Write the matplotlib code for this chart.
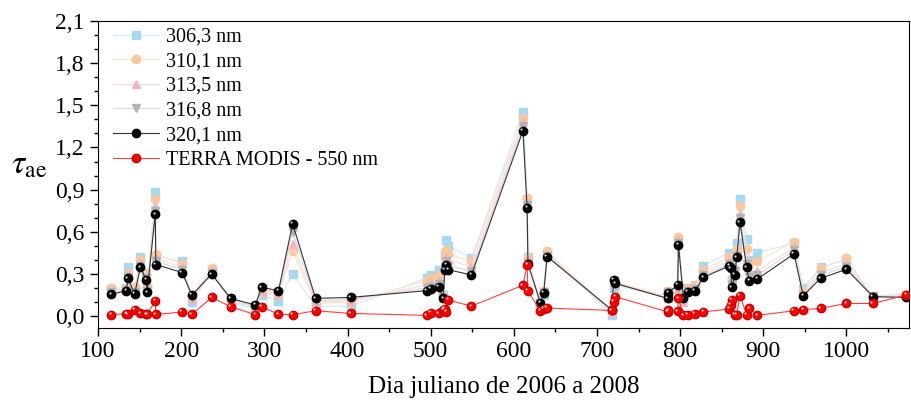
import matplotlib
matplotlib.use('Agg')
import matplotlib.pyplot as plt
from matplotlib.ticker import MultipleLocator, FuncFormatter
from matplotlib.transforms import offset_copy

plt.rcParams['font.family'] = ['Liberation Serif', 'DejaVu Serif']
plt.rcParams['mathtext.fontset'] = 'stix'

# Julian day (2006-2008)
dias = [116, 134, 136, 144, 151, 158, 159, 168.8, 169.5, 201, 213, 236.5, 259.5, 289, 297,
        317, 334, 361.6, 404, 495, 500, 510, 515, 517, 519, 521, 549, 611, 616, 617, 632,
        636, 640, 718, 720, 722, 785, 786, 797, 798, 804, 809, 818, 828, 859, 861, 862,
        866, 868, 872, 880, 883, 893, 937, 948, 969, 1000, 1032, 1072]

# aerosol optical depth per wavelength
tau_3063 = [0.19, 0.20, 0.35, 0.19, 0.424, 0.31, 0.20, 0.88, 0.43, 0.39, 0.10, 0.32, 0.10, 0.05, 0.15,
            0.11, 0.30, 0.07, 0.07, 0.27, 0.29, 0.33, 0.15, 0.44, 0.54, 0.50, 0.41, 1.45, 0.83, 0.42, 0.06,
            0.15, 0.45, 0.01, 0.20, 0.22, 0.13, 0.17, 0.20, 0.55, 0.12, 0.20, 0.22, 0.36, 0.45, 0.43, 0.26,
            0.45, 0.52, 0.83, 0.55, 0.40, 0.45, 0.52, 0.20, 0.35, 0.40, 0.13, 0.15]
tau_3101 = [0.20, 0.20, 0.31, 0.21, 0.40, 0.30, 0.21, 0.83, 0.44, 0.37, 0.13, 0.34, 0.11, 0.06, 0.17,
            0.15, 0.46, 0.09, 0.10, 0.25, 0.27, 0.29, 0.14, 0.42, 0.47, 0.44, 0.39, 1.41, 0.84, 0.41, 0.08,
            0.18, 0.46, 0.03, 0.25, 0.24, 0.14, 0.18, 0.20, 0.56, 0.13, 0.20, 0.22, 0.33, 0.42, 0.39, 0.26,
            0.42, 0.47, 0.78, 0.48, 0.38, 0.39, 0.53, 0.18, 0.34, 0.41, 0.14, 0.16]
tau_3135 = [0.18, 0.19, 0.29, 0.19, 0.38, 0.28, 0.19, 0.78, 0.41, 0.35, 0.12, 0.32, 0.11, 0.06, 0.18,
            0.16, 0.51, 0.10, 0.11, 0.22, 0.24, 0.26, 0.13, 0.38, 0.42, 0.40, 0.35, 1.38, 0.81, 0.40, 0.08,
            0.17, 0.44, 0.03, 0.24, 0.23, 0.13, 0.17, 0.19, 0.54, 0.10, 0.19, 0.20, 0.31, 0.39, 0.37, 0.23,
            0.36, 0.44, 0.73, 0.40, 0.33, 0.32, 0.49, 0.16, 0.31, 0.37, 0.14, 0.15]
tau_3168 = [0.17, 0.185, 0.28, 0.17, 0.36, 0.27, 0.18, 0.75, 0.39, 0.33, 0.13, 0.31, 0.12, 0.07, 0.19,
            0.17, 0.60, 0.11, 0.12, 0.20, 0.21, 0.23, 0.13, 0.35, 0.39, 0.36, 0.32, 1.35, 0.79, 0.38, 0.09,
            0.17, 0.43, 0.04, 0.25, 0.23, 0.13, 0.17, 0.20, 0.52, 0.12, 0.18, 0.19, 0.29, 0.37, 0.35, 0.22,
            0.32, 0.43, 0.70, 0.37, 0.28, 0.29, 0.47, 0.15, 0.29, 0.35, 0.14, 0.14]
tau_3201 = [0.155, 0.18, 0.27, 0.157, 0.348, 0.257, 0.169, 0.724, 0.367, 0.31, 0.15, 0.298, 0.126, 0.079, 0.205,
            0.18, 0.657, 0.126, 0.133, 0.181, 0.193, 0.21, 0.126, 0.329, 0.364, 0.33, 0.293, 1.32, 0.77, 0.37, 0.095,
            0.167, 0.424, 0.043, 0.257, 0.233, 0.126, 0.167, 0.221, 0.507, 0.126, 0.174, 0.18, 0.276, 0.357, 0.34, 0.205,
            0.293, 0.419, 0.667, 0.348, 0.252, 0.264, 0.443, 0.145, 0.269, 0.333, 0.138, 0.133]
tau_modis = [0.01, 0.017, 0.014, 0.043, 0.019, 0.012, 0.012, 0.107, 0.012, 0.029, 0.012, 0.133, 0.067, 0.01, 0.067,
             0.012, 0.01, 0.038, 0.019, 0.005, 0.024, 0.02, 0.043, 0.05, 0.03, 0.114, 0.071, 0.22, 0.364, 0.178, 0.038,
             0.05, 0.057, 0.04, 0.10, 0.138, 0.03, 0.04, 0.035, 0.126, 0.005, 0.01, 0.015, 0.03, 0.05, 0.08, 0.114,
             0.01, 0.01, 0.145, 0.01, 0.055, 0.005, 0.038, 0.046, 0.055, 0.09, 0.09, 0.15]

fig = plt.figure(figsize=(9.12, 4.08), dpi=100)
ax = fig.add_axes([0.1075, 0.196, 0.889, 0.7525])

# light series (OMI short wavelengths)
ax.plot(dias, tau_3063, '-s', color='#d6ecf8', mfc='#a9d8f2', mec='#a9d8f2', ms=5.5, lw=0.9, label='306,3 nm', zorder=2)
ax.plot(dias, tau_3101, '-o', color='#fde3cf', mfc='#fcc79e', mec='#fcc79e', ms=6, lw=0.9, label='310,1 nm', zorder=2)
ax.plot(dias, tau_3135, '-^', color='#f8dde2', mfc='#f0b5c0', mec='#f0b5c0', ms=6, lw=0.9, label='313,5 nm', zorder=2)
ax.plot(dias, tau_3168, '-v', color='#dddddd', mfc='#b3b3b3', mec='#b3b3b3', ms=6, lw=0.9, label='316,8 nm', zorder=2)
ax.plot(dias, tau_3201, '-o', color='#333333', mfc='black', mec='black', ms=6, lw=0.8, label='320,1 nm', zorder=3)
ax.plot(dias, tau_modis, '-o', color='#ff4040', mfc='red', mec='#cc0000', ms=6, lw=0.8,
        label='TERRA MODIS - 550 nm', zorder=4)

# small highlight to mimic the shaded spheres
shine = offset_copy(ax.transData, fig=fig, x=-1.6, y=1.6, units='dots')
ax.plot(dias, tau_3201, 'o', color='white', mew=0, ms=1.6, alpha=0.85, transform=shine, zorder=3.5)
ax.plot(dias, tau_modis, 'o', color='white', mew=0, ms=1.6, alpha=0.85, transform=shine, zorder=4.5)

ax.set_xlim(100, 1075)
ax.set_ylim(-0.085, 2.1)
ax.xaxis.set_major_locator(MultipleLocator(100))
ax.xaxis.set_minor_locator(MultipleLocator(50))
ax.yaxis.set_major_locator(MultipleLocator(0.3))
ax.yaxis.set_minor_locator(MultipleLocator(0.1))
ax.yaxis.set_major_formatter(FuncFormatter(lambda v, p: f'{v:.1f}'.replace('.', ',')))
ax.tick_params(which='both', direction='out', top=False, right=False, labelsize=17)
ax.tick_params(which='major', length=6, width=1)
ax.tick_params(which='minor', length=3, width=1)

ax.set_xlabel('Dia juliano de 2006 a 2008', fontsize=18, labelpad=10)
ax.set_ylabel(r'$\tau_{\mathrm{ae}}$', fontsize=24, rotation=0, labelpad=18)
ax.yaxis.set_label_coords(-0.085, 0.48)

ax.legend(loc='upper left', bbox_to_anchor=(0.0, 1.027), frameon=False, fontsize=14.5,
          handlelength=2.3, handletextpad=0.3, labelspacing=0.27, borderaxespad=0.75, borderpad=0.0)

fig.savefig('out.png', dpi=100)
